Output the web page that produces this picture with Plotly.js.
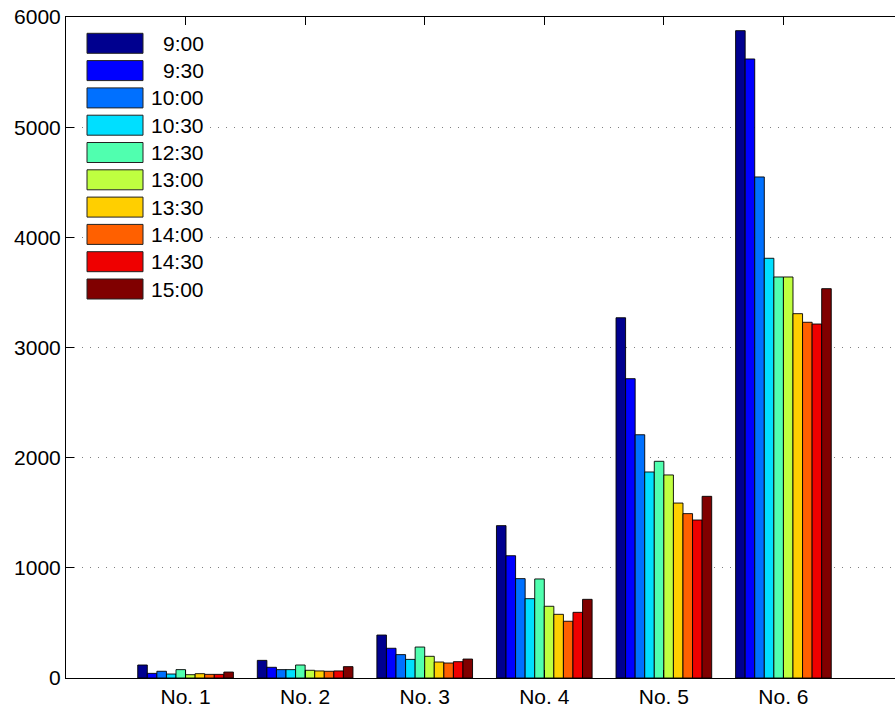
<!DOCTYPE html>
<html>
<head>
<meta charset="utf-8">
<script src="https://cdn.plot.ly/plotly-3.0.1.min.js"></script>
<style>
  html, body { margin: 0; padding: 0; overflow: hidden; background: #fff; }
  #chart { width: 910px; height: 710px; }
</style>
</head>
<body>
<div id="chart"></div>
<script>
// ---- data ----
const categories = ["No. 1", "No. 2", "No. 3", "No. 4", "No. 5", "No. 6"];
const seriesNames = ["  9:00", "  9:30", "10:00", "10:30", "12:30", "13:00", "13:30", "14:00", "14:30", "15:00"];
const seriesColors = ["#00008F", "#0000FF", "#0070FF", "#00DFFF", "#50FFAF", "#BFFF40", "#FFCF00", "#FF6000", "#EF0000", "#800000"];
const v0900 = [118, 160, 390, 1383, 3270, 5876];
const v0930 = [42, 97, 270, 1110, 2717, 5619];
const v1000 = [61, 76, 212, 902, 2208, 4548];
const v1030 = [36, 76, 169, 720, 1870, 3810];
const v1230 = [76, 118, 281, 899, 1967, 3640];
const v1300 = [30, 70, 197, 651, 1843, 3640];
const v1330 = [39, 64, 145, 578, 1588, 3307];
const v1400 = [33, 61, 136, 515, 1492, 3229];
const v1430 = [33, 64, 148, 596, 1434, 3213];
const v1500 = [54, 103, 172, 714, 1649, 3534];
const seriesValues = [v0900, v0930, v1000, v1030, v1230, v1300, v1330, v1400, v1430, v1500];
const yTicks = [0, 1000, 2000, 3000, 4000, 5000, 6000];

// ---- layout geometry ----
const W = 910, H = 710;
const M = { l: 66, r: 7, t: 17, b: 32 };
const PW = W - M.l - M.r, PH = H - M.t - M.b;
const px2x = px => (px - M.l) / PW;
const py2y = py => 1 - (py - M.t) / PH;

const xPos = categories.map((c, i) => i + 1);
const font = "Liberation Sans, Arial, Helvetica, sans-serif";
const FS = 21;

const traces = seriesValues.map((vals, i) => ({
  type: "bar",
  name: seriesNames[i],
  x: xPos,
  y: vals,
  marker: { color: seriesColors[i], line: { color: "#000", width: 0.9 } },
  showlegend: false,
  hoverinfo: "x+y+name"
}));

// custom legend (MATLAB-style wide swatches)
const shapes = [{
  type: "rect", xref: "paper", yref: "paper",
  x0: px2x(84), x1: px2x(209), y0: py2y(302), y1: py2y(26),
  fillcolor: "#fff", line: { width: 0 }, layer: "above"
}];
const annotations = [];
seriesNames.forEach((nm, i) => {
  const cy = 43.3 + i * 27.3;
  shapes.push({
    type: "rect", xref: "paper", yref: "paper",
    x0: px2x(87), x1: px2x(143), y0: py2y(cy + 10), y1: py2y(cy - 10),
    fillcolor: seriesColors[i], line: { color: "#222", width: 1 }, layer: "above"
  });
  annotations.push({
    xref: "paper", yref: "paper", x: px2x(206), y: py2y(cy),
    xanchor: "right", yanchor: "middle", showarrow: false,
    text: nm.trim(), font: { family: font, size: FS, color: "#000" }
  });
});

const layout = {
  width: W, height: H,
  margin: M,
  paper_bgcolor: "#fff", plot_bgcolor: "#fff",
  barmode: "group", bargap: 0.2, bargroupgap: 0,
  font: { family: font, size: FS, color: "#000" },
  xaxis: {
    range: [0, 7],
    tickmode: "array", tickvals: xPos, ticktext: categories,
    ticks: "inside", ticklen: 8, tickcolor: "#000", tickwidth: 1,
    showline: true, linecolor: "#000", linewidth: 1, mirror: "ticks",
    showgrid: false, zeroline: false,
    tickfont: { family: font, size: FS, color: "#000" }
  },
  yaxis: {
    range: [0, 6000],
    tickmode: "array", tickvals: yTicks, ticktext: yTicks.map(String),
    ticks: "inside", ticklen: 8, tickcolor: "#000", tickwidth: 1,
    showline: true, linecolor: "#000", linewidth: 1, mirror: "ticks",
    showgrid: true, gridcolor: "#808080", gridwidth: 1, griddash: "1px,7px",
    zeroline: false,
    tickfont: { family: font, size: FS, color: "#000" }
  },
  shapes: shapes,
  annotations: annotations,
  showlegend: false
};

Plotly.newPlot("chart", traces, layout, { displayModeBar: false, staticPlot: true });
</script>
</body>
</html>
